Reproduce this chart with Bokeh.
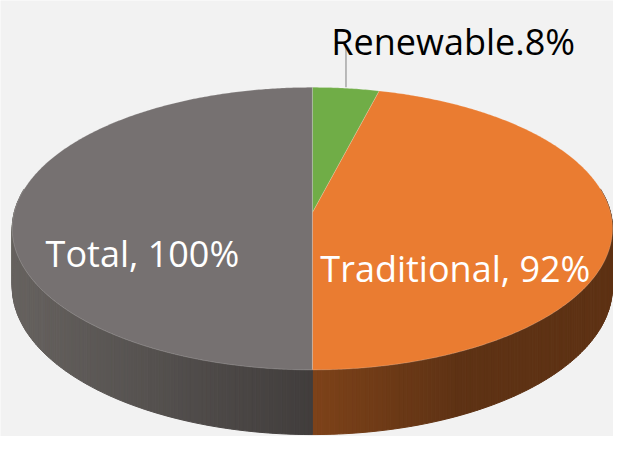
import math
import numpy as np
from bokeh.plotting import figure
from bokeh.models import Range1d
from bokeh.embed import file_html
from bokeh.resources import INLINE
from bokeh.core.properties import value

# ---- data (clockwise from 12 o'clock) ----
categories = ["Renewable", "Traditional", "Total"]
values = [8, 92, 100]
label_texts = ["Renewable.8%", "Traditional, 92%", "Total, 100%"]

# ---- styles ----
top_colors = ["#70AD47", "#EA7C31", "#767171"]
side_from = ["#4F7A32", "#7D4219", "#66625F"]
side_to = ["#4F7A32", "#5E3214", "#413D3C"]
BG = "#F2F2F2"

# ---- projection of the tilted 3D disc (reference pixel space) ----
CX, CY = 320.0, 220.0
A, B, E = 306.0, 144.6, 0.1126
DEPTH = 59.5


def proj(theta_deg, r=1.0, drop=0.0):
    t = np.radians(theta_deg)
    u = r * np.sin(t)
    v = -r * np.cos(t)
    den = 1.0 - E * v
    return CX + A * u / den, CY + (B * v + drop) / den


def hex2rgb(h):
    h = h.lstrip("#")
    return np.array([int(h[i:i + 2], 16) for i in (0, 2, 4)], dtype=float)


def mix(c0, c1, t):
    t = min(max(t, 0.0), 1.0)
    c = hex2rgb(c0) * (1 - t) + hex2rgb(c1) * t
    return "#%02x%02x%02x" % tuple(int(round(x)) for x in c)


total = float(sum(values))
bounds = [0.0]
for v in values:
    bounds.append(bounds[-1] + 360.0 * v / total)

p = figure(width=613, height=436, x_range=Range1d(0, 629), y_range=Range1d(452, 0),
           output_backend="svg", toolbar_location=None, min_border=0,
           x_axis_location=None, y_axis_location=None,
           background_fill_color=BG, border_fill_color=BG, outline_line_color=None)
p.xgrid.visible = False
p.ygrid.visible = False

# ---- sides (gradient strips) ----
xs_side, ys_side, cs_side = [], [], []
for i in range(len(values)):
    lo = max(bounds[i], 80.0)
    hi = min(bounds[i + 1], 280.0)
    if hi <= lo:
        continue
    n = int(math.ceil((hi - lo) / 0.75))
    ang = np.linspace(lo, hi, n + 1)
    xa, ya = proj(ang)
    xb, yb = proj(ang, drop=DEPTH)
    for k in range(n):
        xm = 0.5 * (xa[k] + xa[k + 1])
        if i == 2:
            t = (xm - (CX - A)) / A
        else:
            t = (xm - CX) / 150.0
        c = mix(side_from[i], side_to[i], t)
        xs_side.append([xa[k], xa[k + 1], xb[k + 1], xb[k]])
        ys_side.append([ya[k], ya[k + 1], yb[k + 1], yb[k]])
        cs_side.append(c)
p.patches(xs_side, ys_side, fill_color=cs_side, line_color=cs_side, line_width=1)

# ---- top faces ----
xs_top, ys_top = [], []
for i in range(len(values)):
    n = max(4, int(math.ceil((bounds[i + 1] - bounds[i]) / 0.5)))
    ang = np.linspace(bounds[i], bounds[i + 1], n + 1)
    x, y = proj(ang)
    xs_top.append([CX] + list(x))
    ys_top.append([CY] + list(y))
p.patches(xs_top, ys_top, fill_color=top_colors, line_color="#ffffff",
          line_alpha=0.18, line_width=1)

# ---- labels ----
mids = [(bounds[i] + bounds[i + 1]) / 2 for i in range(len(values))]
lab_r = [1.0, 0.48, 0.57]
lab_dy = [0.0, 49.0, 42.0]
ins_x, ins_y, ins_t = [], [], []
for i in (1, 2):
    lx, ly = proj(mids[i], r=lab_r[i])
    ins_x.append(float(lx))
    ins_y.append(float(ly) + lab_dy[i])
    ins_t.append(label_texts[i])
p.text(x=ins_x, y=ins_y, text=ins_t, text_font=value("Open Sans"), text_font_size="36px",
       text_color="#FFFFFF", text_align="center", text_baseline="alphabetic")

# outside label for Renewable with leader line
rx, ry = proj(mids[0])
rx, ry = float(rx), float(ry)
p.segment(x0=[rx], y0=[ry - 1], x1=[rx], y1=[48.0], line_color="#A6A6A6", line_width=1.5)
p.text(x=[rx - 15], y=[42.0], text=[label_texts[0]], text_font=value("Open Sans"),
       text_font_size="36px", text_color="#000000", text_align="left",
       text_baseline="alphabetic")

open("out.html", "w").write(file_html(p, INLINE))
